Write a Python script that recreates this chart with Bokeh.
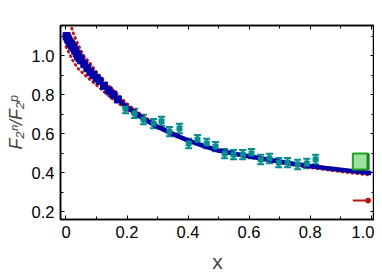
from bokeh.plotting import figure
from bokeh.models import (Range1d, FixedTicker, LinearAxis, Whisker, TeeHead,
                          ColumnDataSource, CustomJSTickFormatter)
from bokeh.embed import file_html
from bokeh.resources import INLINE

# Central fit (blue)
fit_x = [0.0, 0.01, 0.02, 0.03, 0.05, 0.07, 0.1, 0.13, 0.16, 0.2, 0.25, 0.3, 0.35, 0.4,
         0.45, 0.5, 0.55, 0.6, 0.65, 0.7, 0.75, 0.8, 0.85, 0.9, 0.95, 1.0]
fit_y = [1.11, 1.08, 1.05, 1.025, 0.98, 0.94, 0.885, 0.835, 0.79, 0.735, 0.68, 0.635, 0.597,
         0.565, 0.537, 0.513, 0.497, 0.483, 0.469, 0.456, 0.444, 0.433, 0.423, 0.414, 0.405, 0.398]

# Uncertainty band edges (red dotted)
up_x = [0.01, 0.015, 0.025, 0.035, 0.05, 0.06, 0.08, 0.1, 0.125, 0.15, 0.2, 0.25, 0.3, 0.4,
        0.5, 0.6, 0.7, 0.8, 0.9, 1.0]
up_y = [1.19, 1.16, 1.11, 1.072, 1.022, 0.995, 0.958, 0.915, 0.868, 0.83, 0.752, 0.692, 0.642,
        0.567, 0.514, 0.485, 0.457, 0.434, 0.415, 0.40]
lo_x = [0.0, 0.02, 0.04, 0.065, 0.1, 0.15, 0.2, 0.3, 0.4, 0.5, 0.6, 0.7, 0.8, 0.9, 1.0]
lo_y = [1.045, 0.98, 0.932, 0.895, 0.848, 0.78, 0.722, 0.628, 0.561, 0.508, 0.478, 0.449,
        0.425, 0.404, 0.386]

# Small-x data (blue squares)
sx = [0.002, 0.005, 0.008, 0.012, 0.016, 0.02, 0.025, 0.03, 0.035, 0.04, 0.045, 0.05, 0.06,
      0.07, 0.08, 0.09, 0.1, 0.11, 0.125, 0.14, 0.155, 0.17]
sy = [1.10, 1.09, 1.08, 1.07, 1.06, 1.05, 1.04, 1.025, 1.01, 0.995, 0.985, 0.975, 0.955,
      0.935, 0.915, 0.9, 0.885, 0.87, 0.845, 0.82, 0.8, 0.775]

# Large-x data (teal points with error bars)
dx = [0.195, 0.225, 0.254, 0.287, 0.313, 0.339, 0.372, 0.402, 0.431, 0.461, 0.490, 0.520,
      0.549, 0.579, 0.608, 0.638, 0.667, 0.697, 0.726, 0.759, 0.789, 0.818]
dy = [0.728, 0.703, 0.672, 0.651, 0.662, 0.610, 0.626, 0.549, 0.569, 0.549, 0.533, 0.497,
      0.492, 0.492, 0.497, 0.467, 0.472, 0.451, 0.451, 0.441, 0.446, 0.467]
derr = [0.024] * len(dx)

# Model ranges at x -> 1
box_x0, box_x1, box_y0, box_y1 = 0.94, 0.99, 0.415, 0.497
lim_x = [0.94, 0.99]
lim_y = [0.256, 0.256]

x_ticks = [0.0, 0.2, 0.4, 0.6, 0.8, 1.0]
x_minor = [0.1, 0.3, 0.5, 0.7, 0.9]
y_ticks = [0.2, 0.4, 0.6, 0.8, 1.0]
y_minor = [0.3, 0.5, 0.7, 0.9, 1.1]

FONT = "Liberation Sans"
BLUE = "#0000a8"
TEAL = "#008f8f"
RED = "#cc1111"

p = figure(frame_width=314, frame_height=194, output_backend="svg", toolbar_location=None,
           x_range=Range1d(-0.018, 1.011), y_range=Range1d(0.159, 1.154),
           min_border_left=60, min_border_top=25, min_border_right=0, min_border_bottom=10)
p.xgrid.visible = False
p.ygrid.visible = False
p.outline_line_color = "black"
p.outline_line_width = 1.5
p.background_fill_color = "white"
p.border_fill_color = "white"

# band edges
p.line(up_x, up_y, line_color=RED, line_width=2.8, line_dash="1 4", line_cap="round")
p.line(lo_x, lo_y, line_color=RED, line_width=2.8, line_dash="1 4", line_cap="round")

# small-x data
p.scatter(sx, sy, marker="square", size=7, color=BLUE)
# fit
p.line(fit_x, fit_y, line_color=BLUE, line_width=4.5)

# teal data
src = ColumnDataSource(dict(x=dx, y=dy, lo=[a - b for a, b in zip(dy, derr)],
                            hi=[a + b for a, b in zip(dy, derr)]))
w = Whisker(source=src, base="x", upper="hi", lower="lo", line_color=TEAL, line_width=2,
            upper_head=TeeHead(size=7, line_color=TEAL, line_width=2),
            lower_head=TeeHead(size=7, line_color=TEAL, line_width=2))
p.add_layout(w)
p.scatter("x", "y", source=src, marker="square", size=5, color=TEAL)

# green box
p.quad(left=[box_x0], right=[box_x1], bottom=[box_y0], top=[box_y1],
       fill_color="#9ee09e", fill_alpha=1, line_color="#22a022", line_width=2)
p.segment(x0=[box_x1], y0=[box_y0], x1=[box_x1], y1=[box_y1], line_color="#118811", line_width=3)

# red limit
p.line(lim_x, lim_y, line_color="#b81414", line_width=2)
p.scatter([lim_x[-1]], [lim_y[-1]], size=5, color="#b81414")

fmt = CustomJSTickFormatter(code="return tick == 0 ? '0' : tick.toFixed(1);")
blank = CustomJSTickFormatter(code="return '';")

def style(ax, labels=True):
    ax.axis_line_color = "black"
    ax.axis_line_width = 1.5
    ax.major_tick_in = 4
    ax.major_tick_out = 0
    ax.minor_tick_in = 3
    ax.minor_tick_out = 0
    ax.major_tick_line_width = 1
    ax.minor_tick_line_width = 1
    if labels:
        ax.formatter = fmt
        ax.major_label_text_font = FONT
        ax.major_label_text_font_size = "16.5px"
        ax.major_label_text_color = "black"
        ax.major_label_standoff = 6
    else:
        ax.formatter = blank
        ax.major_label_standoff = 0

xa = p.xaxis[0]
xa.ticker = FixedTicker(ticks=x_ticks, minor_ticks=x_minor)
style(xa)
xa.axis_label = "x"
xa.axis_label_text_font = FONT
xa.axis_label_text_font_style = "normal"
xa.axis_label_text_font_size = "21px"
xa.axis_label_standoff = 9

ya = p.yaxis[0]
ya.ticker = FixedTicker(ticks=y_ticks, minor_ticks=y_minor)
style(ya)
ya.axis_label = "F₂ⁿ/F₂ᵖ"
ya.axis_label_text_font = FONT
ya.axis_label_text_font_style = "italic"
ya.axis_label_text_font_size = "18px"
ya.axis_label_standoff = 3

ta = LinearAxis(ticker=FixedTicker(ticks=x_ticks, minor_ticks=x_minor))
style(ta, labels=False)
p.add_layout(ta, "above")
ra = LinearAxis(ticker=FixedTicker(ticks=y_ticks, minor_ticks=y_minor))
style(ra, labels=False)
p.add_layout(ra, "right")

open("out.html", "w").write(file_html(p, INLINE))
